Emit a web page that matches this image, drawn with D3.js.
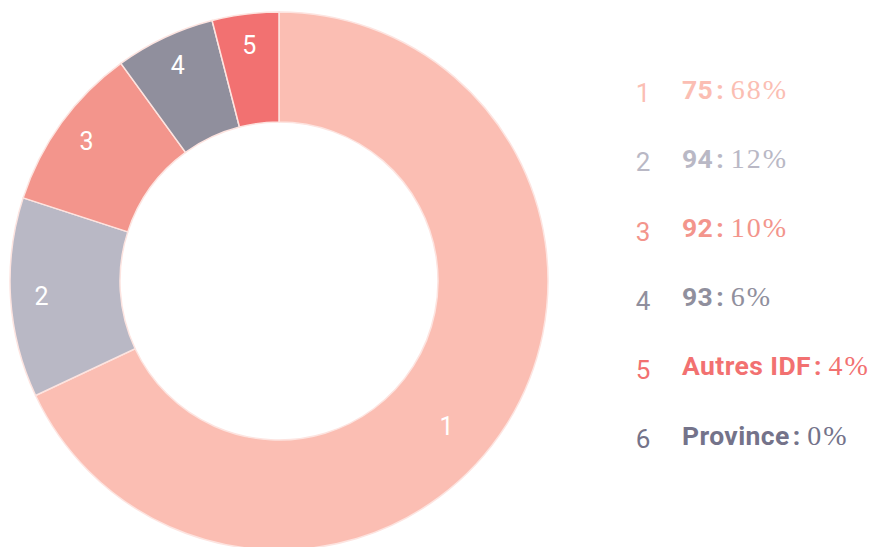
<!DOCTYPE html>
<html>
<head>
<meta charset="utf-8">
<script src="https://cdn.jsdelivr.net/npm/d3@7"></script>
<style>
  html, body { margin: 0; padding: 0; background: #fff; }
  svg { display: block; }
</style>
</head>
<body>
<div id="chart"></div>
<script>
const categories = ["75", "94", "92", "93", "Autres IDF", "Province"];
const shares = [68, 12, 10, 6, 4, 0];
const colors = ["#fbbeb3", "#b9b8c5", "#f3958c", "#908f9d", "#f27171", "#74738a"];

const width = 875, height = 547;
const cx = 279, cy = 281;
const outerR = 269, innerR = 159, labelR = 238;

const svg = d3.select("#chart")
  .append("svg")
  .attr("width", width)
  .attr("height", height);

const data = categories.map((c, i) => ({ name: c, value: shares[i], idx: i + 1, color: colors[i] }));

const pie = d3.pie()
  .sort(null)
  .value(d => d.value);

const arc = d3.arc()
  .innerRadius(innerR)
  .outerRadius(outerR);

const g = svg.append("g")
  .attr("transform", `translate(${cx},${cy})`);

const arcs = pie(data);

// slices
g.selectAll(".slice")
  .data(arcs.filter(d => d.data.value > 0))
  .enter()
  .append("path")
  .attr("class", "slice")
  .attr("d", arc)
  .attr("fill", d => d.data.color)
  .attr("stroke", "#fde4e0")
  .attr("stroke-width", 1.5);

// numbers inside slices (big slice label sits a bit further along, nearer the inner edge)
g.selectAll(".slice-label")
  .data(arcs.filter(d => d.data.value > 0))
  .enter()
  .append("text")
  .attr("class", "slice-label")
  .attr("transform", d => {
    const big = d.data.value > 50;
    const a = (d.startAngle + d.endAngle) / 2 + (big ? 0.15 : 0);
    const r = big ? 222 : labelR;
    return `translate(${r * Math.sin(a)},${-r * Math.cos(a)})`;
  })
  .attr("text-anchor", "middle")
  .attr("dy", "0.35em")
  .attr("font-family", "Roboto, sans-serif")
  .attr("font-size", "25px")
  .attr("fill", "#fff")
  .text(d => d.data.idx);

// legend
const y = d3.scalePoint()
  .domain(categories)
  .range([93, 439]);

const legend = svg.append("g");

const rows = legend.selectAll(".row")
  .data(data)
  .enter()
  .append("g")
  .attr("class", "row")
  .attr("transform", d => `translate(0, ${y(d.name)})`);

rows.append("text")
  .attr("x", 643)
  .attr("dy", "0.35em")
  .attr("text-anchor", "middle")
  .attr("font-family", "Roboto, sans-serif")
  .attr("font-size", "26px")
  .attr("fill", d => d.color)
  .text(d => d.idx);

const lbl = rows.append("text")
  .attr("x", 682)
  .attr("dy", "0.35em")
  .attr("fill", d => d.color);

lbl.append("tspan")
  .attr("font-family", "Roboto, sans-serif")
  .attr("font-weight", "bold")
  .attr("font-size", "26.5px")
  .attr("letter-spacing", "0.4px")
  .text(d => d.name);

lbl.append("tspan")
  .attr("dx", 3)
  .attr("font-family", "Roboto, sans-serif")
  .attr("font-weight", "bold")
  .attr("font-size", "26.5px")
  .text(":");

lbl.append("tspan")
  .attr("dx", 7)
  .attr("font-family", "'Liberation Serif', serif")
  .attr("font-size", "28px")
  .attr("letter-spacing", "2px")
  .text(d => `${d.value}%`);
</script>
</body>
</html>
